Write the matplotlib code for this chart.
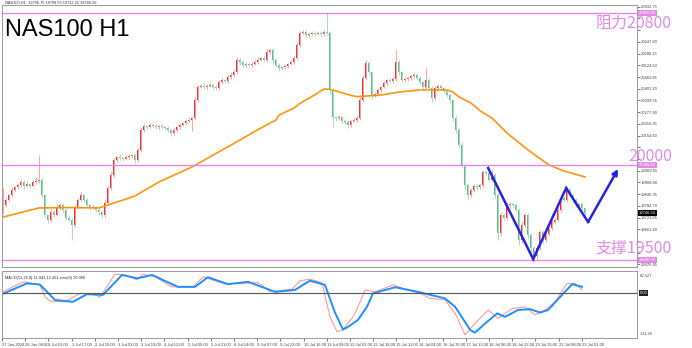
import matplotlib
matplotlib.use('Agg')
import matplotlib.pyplot as plt
import numpy as np

plt.rcParams['font.family'] = ['Liberation Sans', 'DejaVu Sans']

# ---- price data (2h-ish candles, open = previous close) ----
first_open = 19760
closes = [
    19790, 19816, 19842, 19868, 19884, 19895, 19911, 19890, 19900, 19890, 19911, 19916, 19921, 19842, 19737,
    19711, 19753, 19737, 19774, 19790, 19763, 19721, 19711, 19684, 19774, 19816, 19842, 19816, 19790, 19774,
    19779, 19763, 19753, 19737, 19800, 19879, 19947, 20026, 20042, 20037, 20032, 20042, 20047, 20053, 20026,
    20079, 20184, 20205, 20200, 20211, 20205, 20200, 20205, 20200, 20195, 20184, 20168, 20184, 20200, 20211,
    20221, 20232, 20237, 20247, 20342, 20411, 20416, 20411, 20416, 20421, 20411, 20405, 20437, 20447, 20442,
    20463, 20474, 20489, 20553, 20542, 20526, 20532, 20526, 20532, 20542, 20553, 20563, 20553, 20595, 20605,
    20553, 20526, 20511, 20516, 20521, 20532, 20542, 20563, 20632, 20695, 20700, 20684, 20690, 20695, 20690,
    20695, 20690, 20700, 20695, 20395, 20252, 20247, 20252, 20232, 20226, 20211, 20232, 20237, 20247, 20342,
    20458, 20537, 20489, 20368, 20374, 20395, 20411, 20432, 20447, 20442, 20453, 20542, 20489, 20447, 20453,
    20458, 20468, 20474, 20458, 20437, 20411, 20447, 20405, 20353, 20405, 20416, 20405, 20390, 20368, 20342,
    20247, 20184, 20105, 20000, 19895, 19842, 19868, 19890, 19884, 19895, 19963, 19958, 19921, 19947, 19842,
    19642, 19737, 19721, 19790, 19795, 19790, 19763, 19605, 19684, 19737, 19632, 19563, 19521, 19563, 19647,
    19605, 19637, 19668, 19700, 19711, 19763, 19826, 19816, 19868, 19842, 19816, 19790, 19795, 19774, 19747,
]
wick_up = [
    90, 12, 8, 15, 6, 10, 14, 9, 18, 7, 12, 20, 130, 10, 8,
    6, 14, 9, 22, 11, 8, 5, 10, 12, 16, 9, 14, 8, 10, 6,
    12, 7, 9, 5, 15, 10, 18, 12, 8, 14, 6, 9, 11, 7, 10,
    12, 15, 9, 6, 10, 8, 12, 7, 9, 5, 11, 8, 10, 6, 9,
    7, 10, 8, 6, 14, 12, 9, 15, 8, 11, 7, 10, 12, 9, 8,
    10, 14, 9, 16, 12, 8, 10, 7, 9, 11, 13, 8, 10, 15, 12,
    9, 8, 11, 7, 10, 6, 9, 12, 14, 10, 8, 9, 7, 10, 8,
    6, 9, 11, 105, 8, 10, 7, 9, 6, 8, 10, 7, 9, 12, 15,
    14, 16, 10, 8, 12, 9, 7, 10, 8, 11, 9, 63, 12, 8, 10,
    9, 7, 12, 8, 10, 6, 64, 9, 12, 10, 8, 11, 7, 9, 10,
    8, 12, 10, 14, 9, 11, 13, 8, 10, 7, 12, 9, 11, 27, 10,
    12, 15, 9, 14, 10, 8, 11, 9, 16, 12, 10, 8, 12, 15, 10,
    9, 11, 8, 12, 10, 14, 18, 9, 16, 12, 8, 10, 7, 9, 6,
]
wick_dn = [
    20, 10, 8, 12, 7, 9, 11, 15, 8, 10, 6, 9, 12, 14, 10,
    18, 9, 12, 8, 10, 14, 9, 12, 80, 10, 8, 7, 11, 9, 12,
    8, 10, 14, 16, 9, 7, 10, 8, 12, 9, 11, 7, 8, 10, 14,
    9, 8, 10, 12, 7, 9, 8, 11, 6, 10, 12, 14, 9, 8, 10,
    7, 9, 8, 60, 10, 12, 8, 9, 11, 7, 10, 12, 8, 9, 10,
    8, 10, 12, 9, 14, 11, 8, 10, 9, 7, 12, 8, 10, 9, 11,
    14, 12, 16, 9, 10, 8, 7, 9, 10, 12, 8, 10, 9, 7, 11,
    8, 10, 9, 12, 20, 52, 14, 10, 12, 9, 16, 11, 8, 10, 12,
    10, 9, 14, 20, 12, 10, 9, 8, 11, 10, 9, 12, 14, 10, 8,
    9, 11, 8, 10, 12, 14, 10, 12, 24, 10, 9, 11, 10, 12, 14,
    16, 14, 18, 16, 20, 22, 12, 10, 14, 9, 11, 10, 12, 9, 14,
    37, 16, 12, 10, 14, 9, 12, 26, 14, 10, 18, 20, 31, 16, 12,
    14, 10, 12, 9, 11, 10, 8, 12, 10, 9, 14, 10, 12, 9, 10,
]

# moving average (orange)
ma_idx = [0, 12, 22, 32, 33, 44, 52, 63, 76, 86, 91, 92, 97, 99, 104, 107, 109, 112, 116, 118,
          126, 132, 139, 148, 150, 152, 156, 159, 163, 168, 175, 182, 187, 194]
ma_val = [19726, 19774, 19776, 19774, 19779, 19837, 19911, 19990, 20105, 20195, 20237, 20262, 20300, 20325,
          20370, 20400, 20398, 20385, 20366, 20360, 20368, 20384, 20395, 20395, 20384, 20358, 20326, 20285,
          20247, 20168, 20079, 20000, 19968, 19937]

# MACD pane
macd_idx = [0, 8, 12.3, 14.7, 17.3, 23.3, 28, 33.3, 39.7, 44.7, 49.7, 58.3, 64, 68.3, 75, 81.7, 90.7,
            97.3, 102.3, 107.3, 110.7, 113.3, 115, 118.3, 121.3, 123.3, 130.7, 138.3, 147.3, 150.7,
            155.7, 157.3, 160.7, 164.7, 167.3, 171.7, 175.7, 179, 181.7, 185.7, 189.7, 193]
macd_val = [-2, 25, 22, 3, -18, -23, -3, -5, 47, 38, 47, 16, 16, 41, 23, 29, 3, 8, 32, 21, -52, -95,
            -88, -70, -36, -1, 15, 3, -14, -36, -96, -103, -79, -53, -62, -44, -42, -51, -44, -10, 23, 16]
sig_idx = [0, 5.7, 7.3, 12.3, 14, 15.7, 20.7, 25.7, 30.7, 32.3, 35, 37.3, 40.7, 44.7, 46.7, 50.7, 56.3,
           63.3, 66.7, 74, 79, 85, 89, 96.3, 99, 102.3, 106.3, 109, 111.3, 113, 116.3, 117.3, 120.7, 124,
           130, 134, 139, 142.3, 147.3, 150.7, 154, 157.3, 161.7, 165, 169.7, 174, 177.3, 180.7, 184,
           188, 190.7, 193]
sig_val = [3, 25, 29, 21, -10, -21, -23, -1, -5, -11, 21, 49, 47, 34, 49, 42, 16, 16, 42, 23, 25, 27, 3,
           10, 32, 36, 27, -62, -100, -98, -66, -53, 8, 3, 21, 10, -1, -14, -18, -53, -109, -79, -44, -66,
           -40, -36, -57, -44, -23, 25, 25, 8]

# projected zigzag
zig_idx = [161.7, 176.7, 187.7, 195, 205]
zig_val = [19984, 19505, 19879, 19700, 19979]

levels = [20800, 20000, 19500]
level_text = ['阻力20800', '20000', '支撑19500']
last_price = 19746.50

time_labels = ['27 Jun 2024', '28 Jun 08:00', '1 Jul 01:00', '1 Jul 17:00', '2 Jul 10:00', '3 Jul 03:00',
               '3 Jul 19:00', '4 Jul 12:00', '5 Jul 05:00', '5 Jul 21:00', '8 Jul 14:00', '9 Jul 07:00',
               '9 Jul 23:00', '10 Jul 16:00', '11 Jul 09:00', '12 Jul 02:00', '12 Jul 18:00',
               '15 Jul 11:00', '16 Jul 04:00', '16 Jul 20:00', '17 Jul 13:00', '18 Jul 06:00',
               '18 Jul 22:00', '19 Jul 15:00', '22 Jul 08:00', '23 Jul 01:00']

# ---- figure ----
W, H = 692, 348
fig = plt.figure(figsize=(W / 100, H / 100), dpi=100)


def box(l, t, r, b):
    return [l / W, 1 - b / H, (r - l) / W, (b - t) / H]


ax = fig.add_axes(box(2, 5, 637, 267))
ax2 = fig.add_axes(box(2, 271, 637, 338))

n = len(closes)
x = np.arange(n)
c = np.array(closes, float)
o = np.array([first_open] + closes[:-1], float)
hi = np.maximum(o, c) + np.array(wick_up)
lo = np.minimum(o, c) - np.array(wick_dn)
up = c >= o

ax.vlines(x[up], lo[up], hi[up], color='#f5a3a3', lw=0.7)
ax.vlines(x[~up], lo[~up], hi[~up], color='#a6dbbf', lw=0.7)
ax.bar(x[up], c[up] - o[up], bottom=o[up], width=0.6, color='#ef3030', lw=0)
ax.bar(x[~up], c[~up] - o[~up], bottom=o[~up], width=0.6, color='#5cbf89', lw=0)

ax.plot(ma_idx, ma_val, color='#ff9410', lw=1.2)

pink = '#e08ae4'
for lv in levels:
    ax.axhline(lv, color=pink, lw=1.0)

# zigzag with arrow head
ax.plot(zig_idx[:-1], zig_val[:-1], color='#2424e0', lw=1.8, solid_joinstyle='miter')
ax.annotate('', xy=(zig_idx[-1], zig_val[-1]), xytext=(zig_idx[-2], zig_val[-2]),
            arrowprops=dict(arrowstyle='-|>', color='#2424e0', lw=1.8, mutation_scale=8,
                            shrinkA=0, shrinkB=0))

ax.set_xlim(-0.33, 211.3)
ax.set_ylim(19463.2, 20842.1)

# level captions
offsets = [-10, 9, 12]
for lv, txt, dy in zip(levels, level_text, offsets):
    ax.annotate(txt, xy=(1, lv), xycoords=('axes fraction', 'data'), xytext=(35, dy),
                textcoords='offset pixels', ha='right', va='center', fontsize=11.5, color=pink,
                family=['Noto Sans CJK SC', 'DejaVu Sans'], annotation_clip=False, zorder=5)

fig.text(5 / W, 1 - 36 / H, 'NAS100 H1', fontsize=17, color='black', va='baseline')
fig.text(5 / W, 1 - 3 / H, 'NAS100,H1  19796.75 19798.50 19732.25 19746.50', fontsize=2.8,
         va='center', color='#333333')

# right price scale (labels hidden where the level captions sit on top)
ax.yaxis.tick_right()
ticks = np.arange(20832.75, 19470, -61.65)
hidden = [1, 2, 12, 13, 20, 21]
ax.set_yticks(ticks)
ax.set_yticklabels(['' if k in hidden else '%.2f' % t for k, t in enumerate(ticks)])
ax.tick_params(axis='y', labelsize=3.0, length=2, width=0.5, pad=1, colors='#444444')
ax.tick_params(axis='x', bottom=False, labelbottom=False)

for lv in levels:
    ax.text(1.003, lv, '%.2f' % lv, transform=ax.get_yaxis_transform(), fontsize=3.0, color='white',
            va='center', ha='left', bbox=dict(boxstyle='square,pad=0.2', fc=pink, ec='none'))
ax.text(1.003, last_price, '%.2f' % last_price, transform=ax.get_yaxis_transform(), fontsize=3.0,
        color='white', va='center', ha='left', bbox=dict(boxstyle='square,pad=0.2', fc='black', ec='none'))

# ---- MACD pane ----
ax2.plot(sig_idx, sig_val, color='#ff8c8c', lw=0.7)
ax2.plot(macd_idx, macd_val, color='#1e8fff', lw=1.4)
ax2.axhline(0, color='#555555', lw=0.8)
ax2.set_xlim(-0.33, 211.3)
ax2.set_ylim(-117, 57.2)
ax2.set_yticks([])
ax2.text(0.005, 0.93, 'MACD(12,26,9) 11.943 15.461 ema(9) 29.089', transform=ax2.transAxes,
         fontsize=2.8, va='top', color='#333333')
ax2.text(1.004, 0.96, '80.527', transform=ax2.transAxes, fontsize=3.0, va='top', color='#444444')
ax2.text(1.004, 0, '0.00', transform=ax2.get_yaxis_transform(), fontsize=3.0, va='center',
         color='white', bbox=dict(boxstyle='square,pad=0.2', fc='#222222', ec='none'))
ax2.text(1.004, 0.03, '-111.16', transform=ax2.transAxes, fontsize=3.0, va='bottom', color='#444444')

tick_pos = np.arange(len(time_labels)) * 7.73 - 0.33
ax2.set_xticks(tick_pos)
ax2.set_xticklabels(time_labels, ha='left')
ax2.tick_params(axis='x', labelsize=3.0, length=2, width=0.5, pad=1.5, colors='#444444')

for a in (ax, ax2):
    for s in a.spines.values():
        s.set_color('#999999')
        s.set_linewidth(0.7)

fig.savefig('out.png', dpi=100, facecolor='white')
